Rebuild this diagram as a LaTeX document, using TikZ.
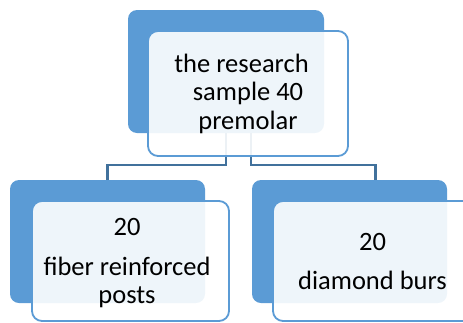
\documentclass[tikz,border=0pt]{standalone}
\usepackage{fontspec}
\setmainfont{Carlito}
\definecolor{boxblue}{HTML}{5B9BD5}
\definecolor{linkblue}{HTML}{41719C}
\tikzset{
  backbox/.style={fill=boxblue, draw=none, rounded corners=9pt, inner sep=0pt},
  frontbox/.style={fill=white, fill opacity=0.9, draw=boxblue, line width=1.8pt,
                   rounded corners=10pt, inner sep=0pt},
  conn/.style={draw=linkblue, line width=2.3pt},
  label/.style={align=center, inner sep=0pt, text=black,
                font=\fontsize{26.5}{28.5}\selectfont}
}
\begin{document}
\begin{tikzpicture}[x=1pt, y=-1pt]
  \useasboundingbox (0,0) rectangle (463,322);
  \clip (0,0) rectangle (463,322);

  % back panels (positions only, connectors hang from them)
  \node[backbox, minimum width=196pt, minimum height=123pt] (topback) at (226,71.5) {};
  \node[backbox, minimum width=195pt, minimum height=123pt] (leftback) at (107.5,241.5) {};
  \node[backbox, minimum width=195pt, minimum height=123pt] (rightback) at (349.5,241.5) {};

  % tree connectors
  \draw[conn] (topback.south) -- ++(0,32) -| (leftback.north);
  \draw[conn] ([xshift=25pt]topback.south) -- ++(0,32) -| ([xshift=26pt]rightback.north);

  % front panels
  \node[frontbox, minimum width=200pt, minimum height=125pt] (topfront) at (248,93.5) {};
  \node[frontbox, minimum width=197pt, minimum height=120pt] (leftfront) at (130.5,261) {};
  \node[frontbox, minimum width=200pt, minimum height=120pt] (rightfront) at (373,261) {};

  % texts
  \node[label] (toptext) at (248,93.5) {the research\hspace*{13pt}\\ sample 40\\ premolar};
  \node[label] (lefttext) at (127,263) {20\\[11.5pt] fiber reinforced\\ posts};
  \node[label] (righttext) at (372.5,261) {20\\[10.5pt] diamond burs};
\end{tikzpicture}
\end{document}
